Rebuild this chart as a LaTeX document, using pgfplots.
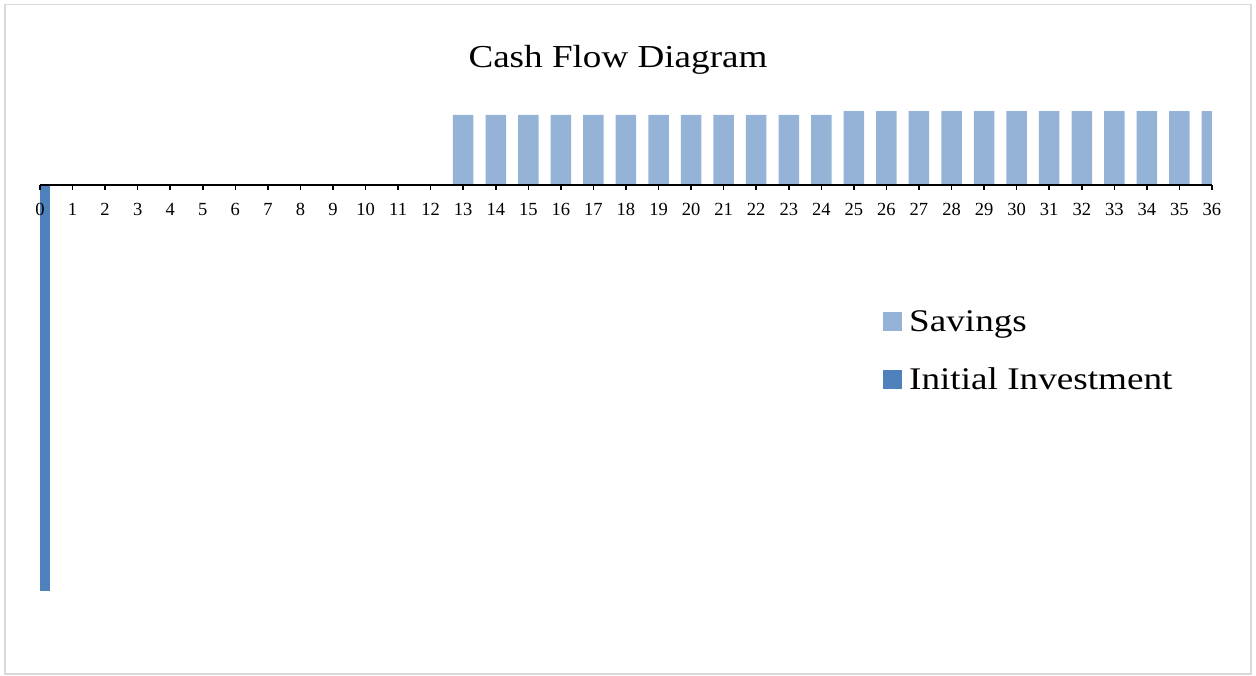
\documentclass[border=0pt]{standalone}
\usepackage{pgfplots}
\pgfplotsset{compat=1.18}
\usepackage{graphicx}
\usepackage{fontspec}
\setmainfont{Liberation Serif}
\definecolor{savc}{RGB}{149,179,215}
\definecolor{invc}{RGB}{79,129,189}
\begin{document}
\begin{tikzpicture}[x=1pt,y=1pt]
\path[use as bounding box] (0,0) rectangle (1256,675);
\draw[color=black!15, line width=1.5pt] (5,1) rectangle (1251,670.5);
\node[anchor=base] at (618,607) {\scalebox{1.16}[1]{\fontsize{32}{38}\selectfont Cash Flow Diagram}};
\begin{axis}[
  at={(40pt,75pt)}, anchor=south west,
  scale only axis, width=1172pt, height=500pt,
  xmin=0, xmax=36, ymin=-112440, ymax=23030,
  axis x line=middle, axis y line=none,
  axis on top,
  axis line style={-, line width=1.8pt, black},
  xtick={0,...,36},
  tick align=outside,
  major tick length=5pt,
  x tick style={line width=1.5pt, black},
  ytick=\empty,
  xticklabel style={font=\fontsize{18.5}{22}\selectfont, /pgf/number format/assume math mode=true, yshift=-10pt},
  ybar, bar width=20.5pt,
  legend style={at={(0.7193,0.584)}, anchor=north west, draw=none, fill=none,
    font=\fontsize{31.5}{37}\selectfont, row sep=31pt, inner sep=0pt,
    /tikz/every odd column/.append style={column sep=5pt}},
  legend cell align=left,
  legend image code/.code={\fill[#1, draw=none] (0pt,-9.5pt) rectangle (19pt,9.5pt);},
]
\addplot[fill=savc, draw=none, bar shift=0pt] coordinates {
(13,19000) (14,19000) (15,19000) (16,19000) (17,19000) (18,19000)
(19,19000) (20,19000) (21,19000) (22,19000) (23,19000) (24,19000)
(25,20000) (26,20000) (27,20000) (28,20000) (29,20000) (30,20000)
(31,20000) (32,20000) (33,20000) (34,20000) (35,20000) (36,20000)};
\addlegendentry{\scalebox{1.18}[1]{Savings}}
\addplot[fill=invc, draw=none, bar shift=0pt] coordinates {(0,-110000)};
\addlegendentry{\scalebox{1.18}[1]{Initial Investment}}
\end{axis}
\end{tikzpicture}
\end{document}
